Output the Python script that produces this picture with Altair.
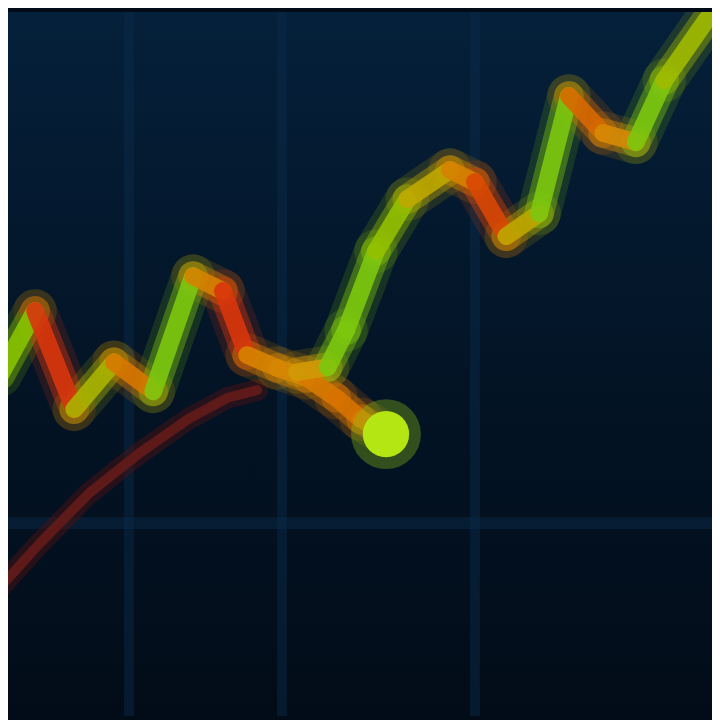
import altair as alt
import pandas as pd

# Main price path (day, price) ending at the highlighted point
main_day = [0, 4.9, 10.4, 16.0, 21.5, 27.1, 31.3, 34.7, 38.9, 43.1, 47.2, 50.7, 54.2]
main_price = [47.9, 56.9, 43.1, 49.7, 45.6, 61.8, 59.7, 50.7, 48.9, 47.5, 44.7, 41.7, 39.6]

# Rally path rising to the top right
rally_day = [41.7, 46.0, 48.6, 52.8, 57.2, 63.2, 66.7, 71.1, 75.7, 79.9, 84.7, 89.3, 93.3, 99.3]
rally_price = [48.3, 49.0, 54.2, 65.3, 72.6, 76.7, 75.0, 67.4, 70.6, 87.1, 81.9, 80.6, 89.3, 97.9]

# Dark red moving average
ma_day = [0, 5.6, 12.5, 19.4, 26.4, 31.9, 36.1]
ma_price = [18.1, 24.3, 31.3, 36.8, 41.7, 44.7, 45.8]

grid_x = [18.1, 39.6, 66.7]
grid_y = [27.1]

last_day = [54.2]
last_price = [39.6]


def segments(days, prices):
    rows = []
    for i in range(len(days) - 1):
        dy = prices[i + 1] - prices[i]
        dx = days[i + 1] - days[i]
        s = dy / dx if dx else 0
        s = max(-1.0, min(1.0, s / 2.0))
        rows.append(dict(x=days[i], y=prices[i], x2=days[i + 1], y2=prices[i + 1], slope=s))
    return rows


seg = pd.DataFrame(segments(main_day, main_price) + segments(rally_day, rally_price))
ma = pd.DataFrame(dict(x=ma_day, y=ma_price))
gx = pd.DataFrame(dict(x=grid_x))
gy = pd.DataFrame(dict(y=grid_y))
pt = pd.DataFrame(dict(x=last_day, y=last_price))

xs = alt.Scale(domain=[1.1, 100], nice=False, zero=False)
ys = alt.Scale(domain=[0, 98.9], nice=False, zero=False)
cs = alt.Scale(domain=[-1, 0, 1], range=["#d8350c", "#d49412", "#7cc80e"])

W = 712
H = 712

bg = alt.Chart(pd.DataFrame(dict(a=[0]))).mark_rect(
    clip=True,
    fill=alt.LinearGradient(
        gradient="linear", x1=0, x2=0, y1=0, y2=1,
        stops=[alt.GradientStop(color="#05203a", offset=0),
               alt.GradientStop(color="#031426", offset=0.5),
               alt.GradientStop(color="#020c18", offset=1)]
    )
).encode(x=alt.value(0), x2=alt.value(W), y=alt.value(0), y2=alt.value(H))

vgrid = alt.Chart(gx).mark_rule(color="#0a2c4c", strokeWidth=10, opacity=0.45, clip=True).encode(
    x=alt.X("x:Q", scale=xs, axis=None))
hgrid = alt.Chart(gy).mark_rule(color="#0a2c4c", strokeWidth=12, opacity=0.45, clip=True).encode(
    y=alt.Y("y:Q", scale=ys, axis=None))

ma_glow = alt.Chart(ma).mark_line(color="#4a1214", strokeWidth=22, opacity=0.5, strokeCap="round", clip=True).encode(
    x=alt.X("x:Q", scale=xs, axis=None), y=alt.Y("y:Q", scale=ys, axis=None))
ma_line = alt.Chart(ma).mark_line(color="#5e1a18", strokeWidth=10, strokeCap="round", clip=True).encode(
    x=alt.X("x:Q", scale=xs, axis=None), y=alt.Y("y:Q", scale=ys, axis=None))


def seg_layer(width, op):
    return alt.Chart(seg).mark_rule(strokeWidth=width, opacity=op, strokeCap="round", clip=True).encode(
        x=alt.X("x:Q", scale=xs, axis=None), y=alt.Y("y:Q", scale=ys, axis=None),
        x2="x2:Q", y2="y2:Q",
        color=alt.Color("slope:Q", scale=cs, legend=None))


glow1 = seg_layer(44, 0.16)
glow2 = seg_layer(30, 0.4)
core = seg_layer(18, 0.9)

pt_glow = alt.Chart(pt).mark_circle(color="#8cc214", size=5000, opacity=0.35, clip=True).encode(
    x=alt.X("x:Q", scale=xs, axis=None), y=alt.Y("y:Q", scale=ys, axis=None))
pt_core = alt.Chart(pt).mark_circle(color="#b4e614", size=2200, opacity=1, clip=True).encode(
    x=alt.X("x:Q", scale=xs, axis=None), y=alt.Y("y:Q", scale=ys, axis=None))

chart = alt.layer(bg, vgrid, hgrid, ma_glow, ma_line, glow1, glow2, core, pt_glow, pt_core).properties(
    width=W, height=H, background="#020c18", padding=0,
    autosize=alt.AutoSizeParams(type="fit", contains="padding")
).configure_view(strokeWidth=0)

chart.save("out.html", embed_options={"renderer": "svg", "actions": False})
